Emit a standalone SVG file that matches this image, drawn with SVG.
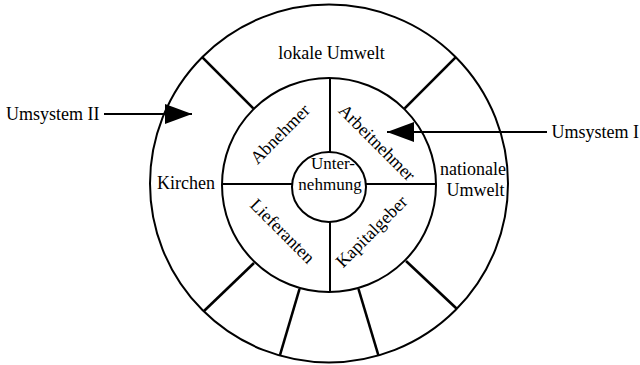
<svg xmlns="http://www.w3.org/2000/svg" width="640" height="365" viewBox="0 0 640 365">
<defs>
<style>
.ln{fill:none;stroke:#000;stroke-width:2}
.rd{stroke:#000;stroke-width:2.6}
text{font-family:"Liberation Serif","Times New Roman",serif;font-size:18px;fill:#000}
.c{text-anchor:middle}
.s{font-size:17px}
</style>
<marker id="ah" viewBox="0 0 27 20" refX="27" refY="10" markerWidth="27" markerHeight="20" markerUnits="userSpaceOnUse" orient="auto">
<path d="M0,0 L27,10 L0,20 Z" fill="#000"/>
</marker>
</defs>
<rect width="640" height="365" fill="#fff"/>
<g id="outer-ring">
<circle class="ln" cx="329" cy="183.5" r="179"/>
<line class="rd" x1="202.4" y1="57.4" x2="253.3" y2="108.3"/>
<line class="rd" x1="455.6" y1="57.4" x2="404.7" y2="108.3"/>
<line class="rd" x1="204" y1="311" x2="254" y2="263"/>
<line class="rd" x1="456.5" y1="308.5" x2="406" y2="261"/>
<line class="rd" x1="280" y1="355" x2="299.5" y2="289"/>
<line class="rd" x1="378.3" y1="355" x2="358.5" y2="289"/>
</g>
<g id="lokale-umwelt"><text class="c" x="331.5" y="59">lokale Umwelt</text></g>
<g id="kirchen"><text class="c" x="186" y="189">Kirchen</text></g>
<g id="nationale-umwelt"><text class="c" x="473" y="175">nationale</text><text class="c" x="475.5" y="196">Umwelt</text></g>
<g id="middle-ring">
<circle class="ln" cx="329" cy="185" r="107"/>
<line class="ln" x1="330" y1="78" x2="330" y2="152"/>
<line class="ln" x1="330" y1="222" x2="330" y2="292"/>
<line class="ln" x1="222" y1="184" x2="292" y2="184"/>
<line class="ln" x1="366" y1="184" x2="436" y2="184"/>
</g>
<g id="abnehmer" transform="translate(280,134) rotate(-45)"><text class="c" x="0" y="6">Abnehmer</text></g>
<g id="arbeitnehmer" transform="translate(377,142.5) rotate(45)"><text class="c" x="0" y="6">Arbeitnehmer</text></g>
<g id="lieferanten" transform="translate(282.5,231) rotate(45)"><text class="c" x="0" y="6">Lieferanten</text></g>
<g id="kapitalgeber" transform="translate(371.5,231.5) rotate(-45)"><text class="c" x="0" y="6">Kapitalgeber</text></g>
<g id="unternehmung">
<ellipse class="ln" cx="329" cy="187" rx="37" ry="35"/>
<text class="c s" x="333" y="169">Unter-</text>
<text class="c s" x="330" y="190">nehmung</text>
</g>
<g id="umsystem-ii"><text x="6" y="120">Umsystem II</text></g>
<g id="umsystem-i"><text x="551.5" y="138">Umsystem I</text></g>
<g id="connectors">
<line class="ln" x1="104" y1="114" x2="192" y2="114" marker-end="url(#ah)"/>
<line class="ln" x1="547" y1="132" x2="387" y2="132" marker-end="url(#ah)"/>
</g>
</svg>
